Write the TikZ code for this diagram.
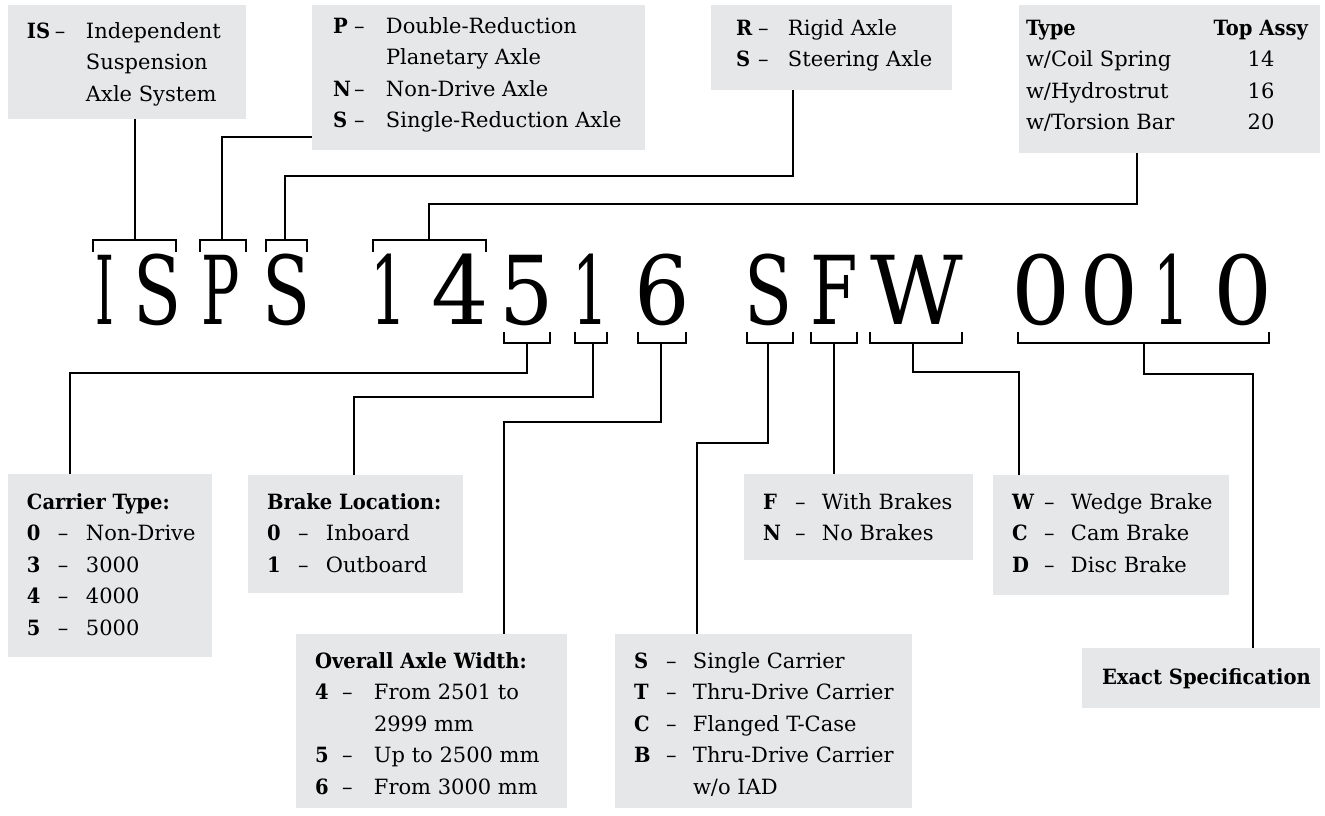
\documentclass[tikz,border=0pt]{standalone}
\usepackage{fontspec}
\setmainfont{DejaVu Serif}[BoldFeatures={FakeStretch=0.93}]
\newfontfamily\bigfont{DejaVu Serif}
\definecolor{boxgray}{RGB}{230,231,232}
\newlength\kw
\newlength\dw
\newcommand\kr[2]{\makebox[\kw][l]{\bfseries #1}\makebox[\dw][l]{–}#2}
\newcommand\kc[1]{\hspace*{\dimexpr\kw+\dw\relax}#1}
\newcommand\bigch[3]{\node[bigl] (ch#1) at (#1,324) {\scalebox{#3}[1]{#2}};}
\newcommand\ubr[4]{\draw (#1,252) -- (#1,240) -- (#2,240) -- (#2,252); \coordinate (#4) at (#3,240);}
\newcommand\lbr[4]{\draw (#1,332) -- (#1,343) -- (#2,343) -- (#2,332); \coordinate (#4) at (#3,343);}
\begin{document}
\begin{tikzpicture}[x=1pt,y=-1pt,line width=2pt,
  panel/.style={fill=boxgray,draw=none,inner sep=0pt,outer sep=0pt,anchor=north west},
  txt/.style={anchor=base west,inner sep=0pt,outer sep=0pt,font=\fontsize{21}{31.6}\selectfont},
  bigl/.style={anchor=base,inner sep=0pt,font=\bigfont\fontsize{95}{95}\selectfont}]
\useasboundingbox (0,0) rectangle (1325,815);
% panels
\node[panel,minimum width=238,minimum height=114] (isbox) at (8,5) {};
\node[panel,minimum width=333,minimum height=145] (pbox) at (312,5) {};
\node[panel,minimum width=241,minimum height=85] (rbox) at (711,5) {};
\node[panel,minimum width=301,minimum height=148] (tbox) at (1019,5) {};
\node[panel,minimum width=204,minimum height=183] (cbox) at (8,474) {};
\node[panel,minimum width=215,minimum height=118] (bbox) at (248,475) {};
\node[panel,minimum width=271,minimum height=174] (obox) at (296,634) {};
\node[panel,minimum width=297,minimum height=174] (sbox) at (615,634) {};
\node[panel,minimum width=229,minimum height=86] (fbox) at (744,474) {};
\node[panel,minimum width=236,minimum height=120] (wbox) at (993,475) {};
\node[panel,minimum width=238,minimum height=60] (ebox) at (1082,648) {};
% texts
\node[txt] (istxt) at (27,38) {\setlength\kw{28pt}\setlength\dw{31pt}\begin{tabular}[t]{@{}l@{}}\kr{IS}{Independent}\\ \kc{Suspension}\\ \kc{Axle System}\end{tabular}};
\node[txt] (ptxt) at (333,33) {\setlength\kw{21pt}\setlength\dw{32pt}\begin{tabular}[t]{@{}l@{}}\kr{P}{Double-Reduction}\\ \kc{Planetary Axle}\\ \kr{N}{Non-Drive Axle}\\ \kr{S}{Single-Reduction Axle}\end{tabular}};
\node[txt] (rtxt) at (736,35) {\setlength\kw{22pt}\setlength\dw{30pt}\begin{tabular}[t]{@{}l@{}}\kr{R}{Rigid Axle}\\ \kr{S}{Steering Axle}\end{tabular}};
\node[txt] (ttxt) at (1026,35) {\begin{tabular}[t]{@{}l@{}}\textbf{Type}\\ w/Coil Spring\\ w/Hydrostrut\\ w/Torsion Bar\end{tabular}};
\node[txt,anchor=base] (tnum) at (1261,35) {\begin{tabular}[t]{@{}c@{}}\textbf{Top Assy}\\ 14\\ 16\\ 20\end{tabular}};
\node[txt] (ctxt) at (27,509) {\setlength\kw{31pt}\setlength\dw{28pt}\begin{tabular}[t]{@{}l@{}}\textbf{Carrier Type:}\\ \kr{0}{Non-Drive}\\ \kr{3}{3000}\\ \kr{4}{4000}\\ \kr{5}{5000}\end{tabular}};
\node[txt] (btxt) at (267,509) {\setlength\kw{31pt}\setlength\dw{28pt}\begin{tabular}[t]{@{}l@{}}\textbf{Brake Location:}\\ \kr{0}{Inboard}\\ \kr{1}{Outboard}\end{tabular}};
\node[txt] (otxt) at (315,668) {\setlength\kw{27pt}\setlength\dw{32pt}\begin{tabular}[t]{@{}l@{}}\textbf{Overall Axle Width:}\\ \kr{4}{From 2501 to}\\ \kc{2999 mm}\\ \kr{5}{Up to 2500 mm}\\ \kr{6}{From 3000 mm}\end{tabular}};
\node[txt] (stxt) at (634,668) {\setlength\kw{32pt}\setlength\dw{27pt}\begin{tabular}[t]{@{}l@{}}\kr{S}{Single Carrier}\\ \kr{T}{Thru-Drive Carrier}\\ \kr{C}{Flanged T-Case}\\ \kr{B}{Thru-Drive Carrier}\\ \kc{w/o IAD}\end{tabular}};
\node[txt] (ftxt) at (763,509) {\setlength\kw{32pt}\setlength\dw{27pt}\begin{tabular}[t]{@{}l@{}}\kr{F}{With Brakes}\\ \kr{N}{No Brakes}\end{tabular}};
\node[txt] (wtxt) at (1012,509) {\setlength\kw{32pt}\setlength\dw{27pt}\begin{tabular}[t]{@{}l@{}}\kr{W}{Wedge Brake}\\ \kr{C}{Cam Brake}\\ \kr{D}{Disc Brake}\end{tabular}};
\node[txt] (etxt) at (1102,684) {\textbf{Exact Specification}};
% code letters
\bigch{105}{I}{0.5}
\bigch{158}{S}{0.74}
\bigch{221}{P}{0.6}
\bigch{287}{S}{0.74}
\bigch{389}{1}{0.6}
\bigch{460}{4}{0.95}
\bigch{527}{5}{0.9}
\bigch{591}{1}{0.6}
\bigch{662}{6}{0.92}
\bigch{769}{S}{0.74}
\bigch{834}{F}{0.72}
\bigch{917}{W}{0.95}
\bigch{1041}{0}{0.98}
\bigch{1109}{0}{0.98}
\bigch{1172}{1}{0.6}
\bigch{1243}{0}{0.98}
% brackets
\ubr{93}{176}{135}{uI}
\ubr{200}{246}{222}{uP}
\ubr{266}{307}{285}{uS}
\ubr{373}{486}{429}{uN}
\lbr{504}{550}{527}{lC}
\lbr{575}{607}{593}{lB}
\lbr{638}{686}{661}{lO}
\lbr{747}{793}{768}{lS}
\lbr{811}{857}{834}{lF}
\lbr{870}{962}{913}{lW}
\lbr{1018}{1269}{1144}{lE}
% connectors
\draw (uI |- isbox.south) -- (uI);
\draw (pbox.west |- 0,137) -| (uP);
\draw (rbox.south -| 793,0) -- (793,176) -| (uS);
\draw (tbox.south -| 1137,0) -- (1137,204) -| (uN);
\draw (lC) |- (70,373) -- (70,0 |- cbox.north);
\draw (lB) |- (354,397) -- (354,0 |- bbox.north);
\draw (lO) |- (504,422) -- (504,0 |- obox.north);
\draw (lS) |- (697,443) -- (697,0 |- sbox.north);
\draw (lF) -- (lF |- fbox.north);
\draw (lW) |- (1019,372) -- (1019,0 |- wbox.north);
\draw (lE) |- (1253,374) -- (1253,0 |- ebox.north);
\end{tikzpicture}
\end{document}
